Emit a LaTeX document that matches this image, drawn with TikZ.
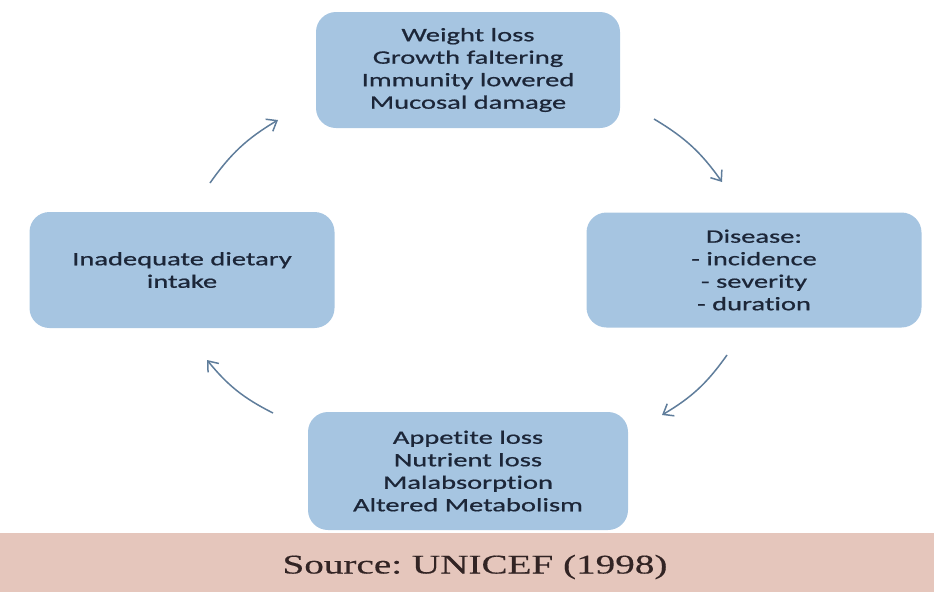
\documentclass[tikz,border=0pt]{standalone}
\usepackage{fontspec}
\setmainfont{Carlito}[FakeStretch=1.5, FakeBold=0.8, RawFeature=-liga]
\newfontfamily\srcfont{Liberation Serif}[FakeStretch=1.45, FakeBold=0.4]
\usetikzlibrary{arrows.meta}
\definecolor{boxblue}{RGB}{166,197,225}
\definecolor{boxtext}{RGB}{28,38,56}
\definecolor{arrowgrey}{RGB}{95,125,155}
\definecolor{bandpink}{RGB}{229,198,188}
\definecolor{srctext}{RGB}{50,36,36}
\frenchspacing

\begin{document}
\begin{tikzpicture}[x=1pt, y=-1pt,
  every node/.style={fill=boxblue, rounded corners=20pt, align=center, text=boxtext, inner sep=0pt, font=\fontsize{19}{22.5}\selectfont},
  cyc/.style={-{Straight Barb[length=9pt,width=14pt]}, arrowgrey, line width=1.5pt, bend left=12}]
\useasboundingbox (0,0) rectangle (934,592);
\fill[bandpink] (0,533) rectangle (934,592);
\node[minimum width=304pt, minimum height=116pt] (M1N0) at (468,70) {Weight loss\\Growth faltering\\Immunity lowered\\Mucosal damage};
\node[minimum width=335pt, minimum height=115pt] (M1N1) at (754,270) {Disease:\\- incidence\\- severity\\- duration};
\node[minimum width=320pt, minimum height=118pt] (M1N2) at (468,471) {Appetite loss\\Nutrient loss\\Malabsorption\\Altered Metabolism};
\node[minimum width=305pt, minimum height=116pt] (M1N3) at (182,270) {Inadequate dietary\\intake};
\node[fill=none, text=srctext, font=\srcfont\fontsize{27}{30}\selectfont] (SRC) at (475,567) {Source: UNICEF (1998)};
% arrows of the cycle
\coordinate (A1s) at (210,183);
\coordinate (A1e) at (278,120);
\coordinate (A2s) at (654,119);
\coordinate (A2e) at (722,182);
\coordinate (A3s) at (727,355);
\coordinate (A3e) at (662,415);
\coordinate (A4s) at (273,413);
\coordinate (A4e) at (207,360);
\draw[cyc] (A1s) to (A1e);
\draw[cyc] (A2s) to (A2e);
\draw[cyc] (A3s) to (A3e);
\draw[cyc] (A4s) to (A4e);
\end{tikzpicture}
\end{document}
